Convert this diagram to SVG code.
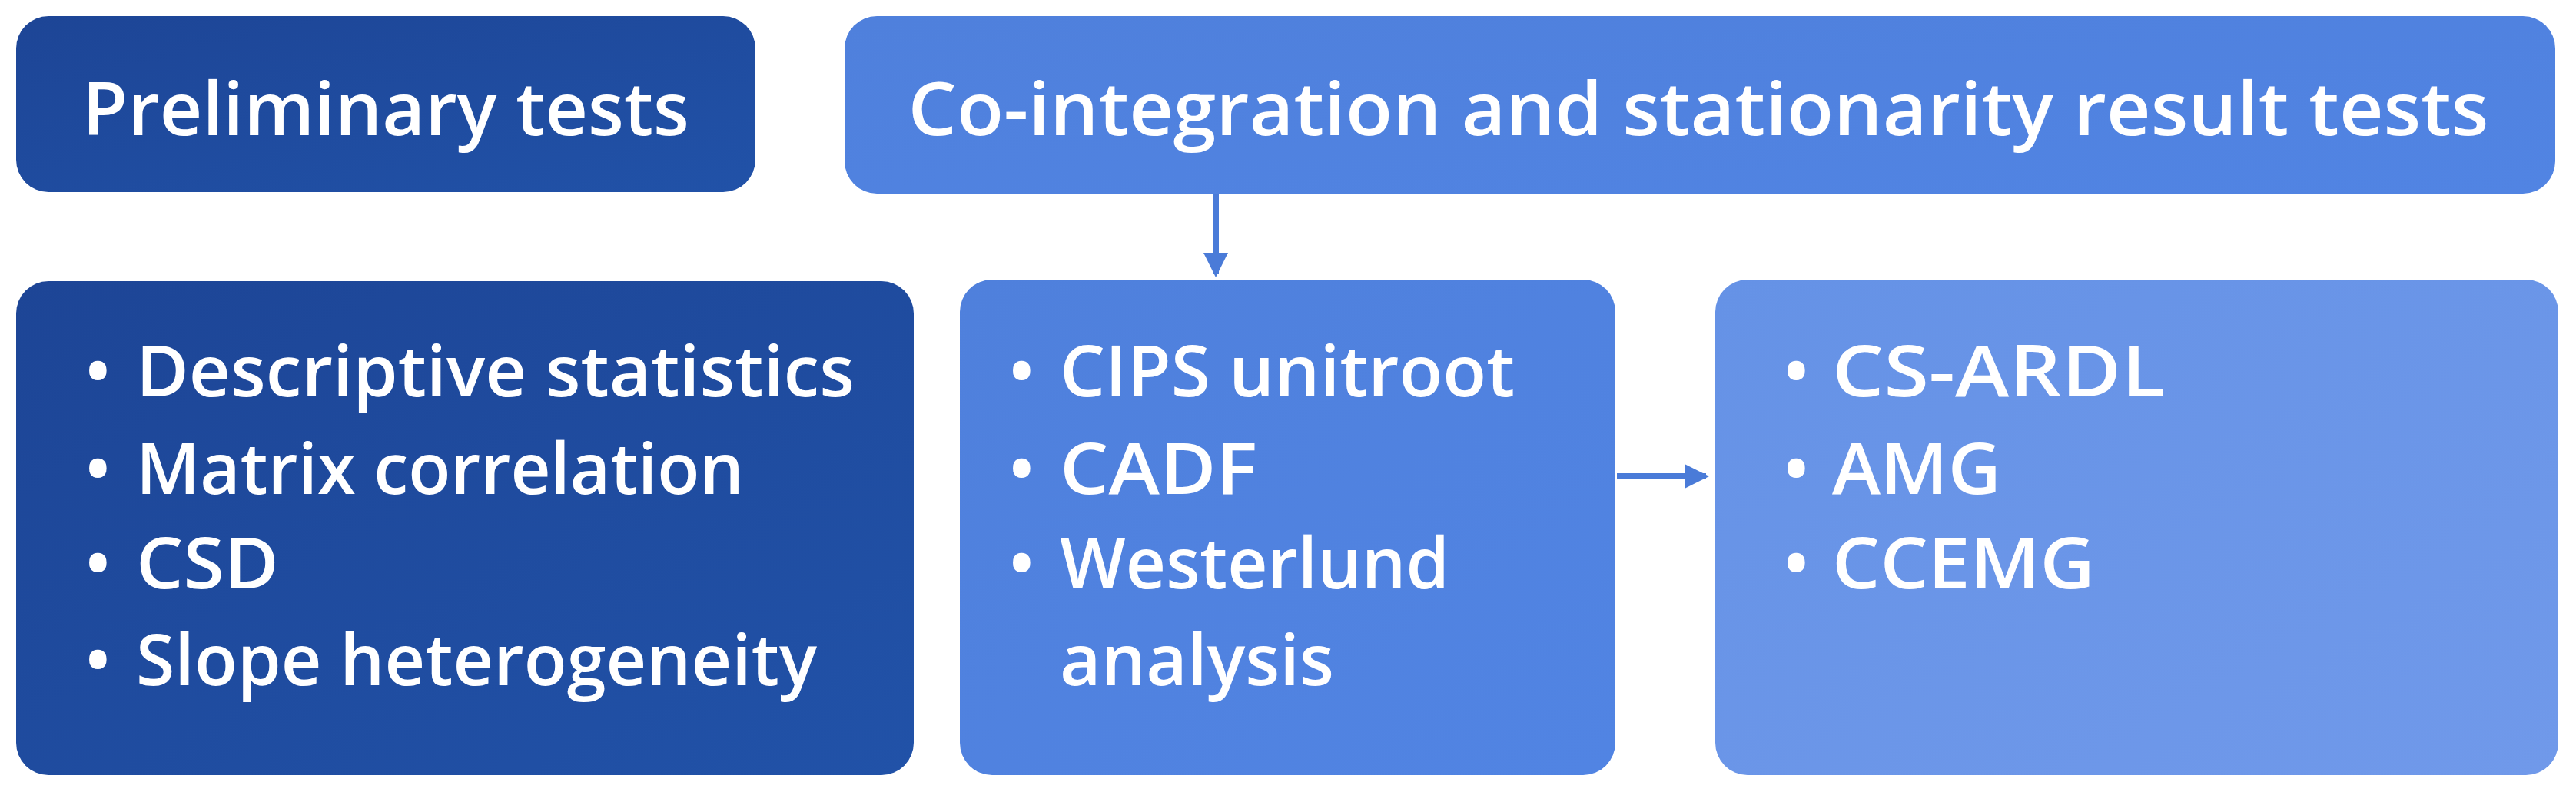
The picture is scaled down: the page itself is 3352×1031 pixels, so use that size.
<svg xmlns="http://www.w3.org/2000/svg" width="3352" height="1031" viewBox="0 0 3352 1031">
<style>
text{font-family:"Open Sans","Liberation Sans",sans-serif;font-weight:600;fill:#ffffff;}
.t{font-size:96px;}
.l{font-size:92px;}
.c{stroke:#4a7bd8;stroke-width:8;fill:none;}
</style>
<defs>
<linearGradient id="gd" x1="0" y1="0" x2="1" y2="1"><stop offset="0" stop-color="#1d4596"/><stop offset="1" stop-color="#2152a8"/></linearGradient>
<linearGradient id="gm" x1="0" y1="0" x2="1" y2="1"><stop offset="0" stop-color="#4f80dc"/><stop offset="1" stop-color="#5184e3"/></linearGradient>
<linearGradient id="gl" x1="0" y1="0" x2="1" y2="1"><stop offset="0" stop-color="#6592e6"/><stop offset="1" stop-color="#7099ea"/></linearGradient>
<marker id="ah" markerWidth="4" markerHeight="4" refX="3.5" refY="2" orient="auto" markerUnits="strokeWidth"><path d="M0,0 L4,2 L0,4 z" fill="#4a7bd8"/></marker>
</defs>
<g id="preliminary">
<rect x="21" y="21" width="962" height="229" rx="42" fill="url(#gd)"/>
<text class="t" x="502" y="176" text-anchor="middle" textLength="790" lengthAdjust="spacingAndGlyphs">Preliminary tests</text>
</g>
<g id="cointegration">
<rect x="1099" y="21" width="2226" height="231" rx="42" fill="url(#gm)"/>
<text class="t" x="2210" y="176" text-anchor="middle" textLength="2057" lengthAdjust="spacingAndGlyphs">Co-integration and stationarity result tests</text>
</g>
<g id="prelim-list">
<rect x="21" y="366" width="1168" height="643" rx="42" fill="url(#gd)"/>
<text class="l" x="110" y="516">•</text><text class="l" x="177" y="516" textLength="935" lengthAdjust="spacingAndGlyphs">Descriptive statistics</text>
<text class="l" x="110" y="643">•</text><text class="l" x="177" y="643" textLength="791" lengthAdjust="spacingAndGlyphs">Matrix correlation</text>
<text class="l" x="110" y="766">•</text><text class="l" x="177" y="766" textLength="186" lengthAdjust="spacingAndGlyphs">CSD</text>
<text class="l" x="110" y="892">•</text><text class="l" x="177" y="892" textLength="886" lengthAdjust="spacingAndGlyphs">Slope heterogeneity</text>
</g>
<g id="unitroot-list">
<rect x="1249" y="364" width="853" height="645" rx="42" fill="url(#gm)"/>
<text class="l" x="1312" y="516">•</text><text class="l" x="1379" y="516" textLength="592" lengthAdjust="spacingAndGlyphs">CIPS unitroot</text>
<text class="l" x="1312" y="643">•</text><text class="l" x="1379" y="643" textLength="257" lengthAdjust="spacingAndGlyphs">CADF</text>
<text class="l" x="1312" y="766">•</text><text class="l" x="1379" y="766" textLength="507" lengthAdjust="spacingAndGlyphs">Westerlund</text>
<text class="l" x="1379" y="892" textLength="357" lengthAdjust="spacingAndGlyphs">analysis</text>
</g>
<g id="estimators-list">
<rect x="2232" y="364" width="1097" height="645" rx="42" fill="url(#gl)"/>
<text class="l" x="2320" y="516">•</text><text class="l" x="2384" y="516" textLength="434" lengthAdjust="spacingAndGlyphs">CS-ARDL</text>
<text class="l" x="2320" y="643">•</text><text class="l" x="2384" y="643" textLength="220" lengthAdjust="spacingAndGlyphs">AMG</text>
<text class="l" x="2320" y="766">•</text><text class="l" x="2384" y="766" textLength="342" lengthAdjust="spacingAndGlyphs">CCEMG</text>
</g>
<g id="connectors">
<line class="c" x1="1582" y1="252" x2="1582" y2="357" marker-end="url(#ah)"/>
<line class="c" x1="2104" y1="620" x2="2220" y2="620" marker-end="url(#ah)"/>
</g>
</svg>
